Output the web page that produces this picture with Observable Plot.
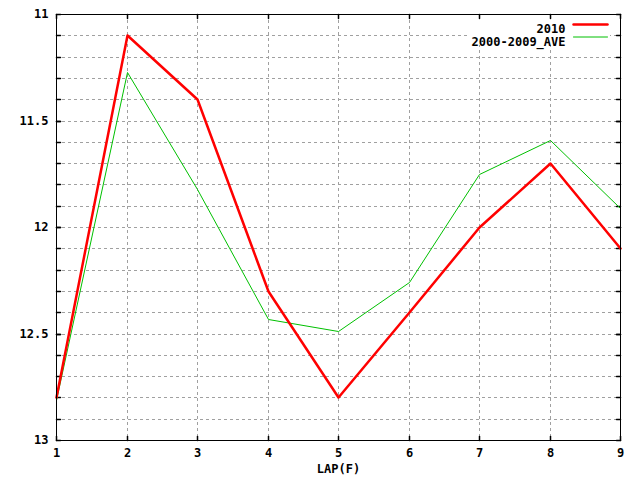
<!DOCTYPE html>
<html>
<head>
<meta charset="utf-8">
<script src="https://cdn.jsdelivr.net/npm/d3@7"></script>
<script src="https://cdn.jsdelivr.net/npm/@observablehq/plot@0.6"></script>
<style>
  html, body { margin: 0; padding: 0; background: #fff; }
</style>
</head>
<body>
<div id="chart"></div>
<script>
const laps = [1, 2, 3, 4, 5, 6, 7, 8, 9];
const y2010 = [12.8, 11.1, 11.4, 12.3, 12.8, 12.4, 12.0, 11.7, 12.1];
const yAve = [12.81, 11.27, 11.82, 12.43, 12.49, 12.26, 11.75, 11.59, 11.91];
const seriesNames = ["2010", "2000-2009_AVE"];
const xTicks = [1, 2, 3, 4, 5, 6, 7, 8, 9];
const yMajor = [11, 11.5, 12, 12.5, 13];
const yMinor = [11.1, 11.2, 11.3, 11.4, 11.5, 11.6, 11.7, 11.8, 11.9, 12.0,
                12.1, 12.2, 12.3, 12.4, 12.5, 12.6, 12.7, 12.8, 12.9];
const xGrid = [2, 3, 4, 5, 6, 7, 8];

const d2010 = laps.map((x, i) => ({x, y: y2010[i]}));
const dAve = laps.map((x, i) => ({x, y: yAve[i]}));

const tickShape = {draw(ctx, l) { ctx.moveTo(0, 0); ctx.lineTo(0, -l); }};
const tickLen = 4;
const font = "'DejaVu Sans Mono', monospace";

// opaque legend box (gnuplot key area hides the grid)
function legendBox(index, scales, values, dimensions) {
  const {width, marginRight, marginTop} = dimensions;
  const r = document.createElementNS("http://www.w3.org/2000/svg", "rect");
  r.setAttribute("x", width - marginRight - 150);
  r.setAttribute("y", marginTop + 3);
  r.setAttribute("width", 140);
  r.setAttribute("height", 28);
  r.setAttribute("fill", "#fff");
  return r;
}

const chart = Plot.plot({
  width: 640,
  height: 480,
  marginLeft: 56,
  marginRight: 20,
  marginTop: 14,
  marginBottom: 40,
  style: {fontFamily: font, fontSize: "12px", fontWeight: "bold", background: "#fff", color: "#000"},
  x: {domain: [1, 9], round: true},
  y: {domain: [11, 13], reverse: true, round: true},
  marks: [
    Plot.ruleY(yMinor, {stroke: "#a0a0a0", strokeDasharray: "3,3", strokeWidth: 1}),
    Plot.ruleX(xGrid, {stroke: "#a0a0a0", strokeDasharray: "3,3", strokeWidth: 1}),
    legendBox,
    // inward tick marks
    Plot.vector(yMinor.concat(yMajor), {x: 1, y: d => d, rotate: 90, length: tickLen, anchor: "start", shape: tickShape, stroke: "#000"}),
    Plot.vector(yMinor.concat(yMajor), {x: 9, y: d => d, rotate: 270, length: tickLen, anchor: "start", shape: tickShape, stroke: "#000"}),
    Plot.vector(xTicks, {x: d => d, y: 11, rotate: 180, length: tickLen, anchor: "start", shape: tickShape, stroke: "#000"}),
    Plot.vector(xTicks, {x: d => d, y: 13, rotate: 0, length: tickLen, anchor: "start", shape: tickShape, stroke: "#000"}),
    Plot.axisY({ticks: yMajor, tickSize: 0, tickPadding: 8, tickFormat: d => String(d), label: null}),
    Plot.axisX({ticks: xTicks, tickSize: 0, tickPadding: 8, tickFormat: d => String(d), label: null}),
    Plot.text(["LAP(F)"], {frameAnchor: "bottom", dy: 32, text: d => d}),
    Plot.line(dAve, {x: "x", y: "y", stroke: "#00c000", strokeWidth: 1}),
    Plot.line(d2010, {x: "x", y: "y", stroke: "#ff0000", strokeWidth: 2.5}),
    Plot.frame({stroke: "#000", strokeWidth: 1}),
    // legend
    Plot.text([seriesNames[0]], {frameAnchor: "top-right", dx: -55, dy: 10, textAnchor: "end", text: d => d}),
    Plot.text([seriesNames[1]], {frameAnchor: "top-right", dx: -55, dy: 22.5, textAnchor: "end", text: d => d}),
    Plot.vector([0], {frameAnchor: "top-right", dx: -47, dy: 10, rotate: 90, length: 34, anchor: "start", shape: tickShape, stroke: "#ff0000", strokeWidth: 2.5}),
    Plot.vector([0], {frameAnchor: "top-right", dx: -47, dy: 22.5, rotate: 90, length: 34, anchor: "start", shape: tickShape, stroke: "#00c000", strokeWidth: 1})
  ]
});
document.getElementById("chart").appendChild(chart);
</script>
</body>
</html>
